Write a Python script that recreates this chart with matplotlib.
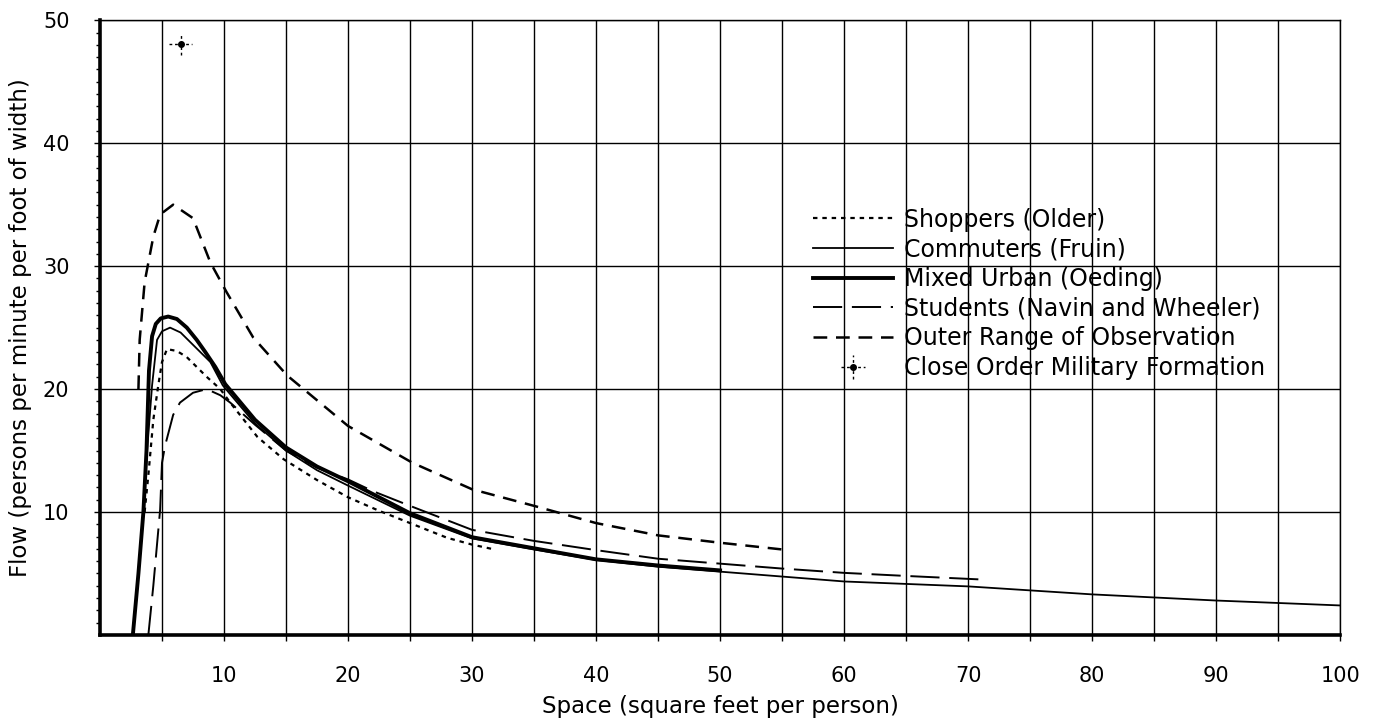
import matplotlib
matplotlib.use("Agg")
import matplotlib.pyplot as plt
import numpy as np

# values (space ft2/person, flow persons/min/ft)
shop_x = [3.6, 3.9, 4.3, 4.7, 5.0, 5.4, 6.2, 7.0, 8.6, 9.7, 10.5, 12.7, 14.8, 17.5, 20.0, 22.5, 25.0, 28.0, 30.0, 31.6]
shop_y = [10.0, 13.0, 17.5, 20.3, 22.2, 23.25, 23.1, 22.6, 21.0, 20.0, 18.9, 16.1, 14.3, 12.6, 11.2, 10.1, 9.1, 7.9, 7.35, 7.0]

comm_x = [2.65, 3.1, 3.5, 3.8, 4.2, 4.6, 5.0, 5.65, 6.5, 7.5, 8.9, 9.9, 12.5, 15.0, 17.5, 20.0, 25.0, 30.0, 35.0,
          40.0, 45.0, 50.0, 55.0, 60.0, 70.0, 80.0, 90.0, 100.0]
comm_y = [0.0, 5.0, 10.0, 15.0, 20.3, 24.0, 24.7, 25.0, 24.6, 23.6, 22.2, 20.3, 17.2, 15.0, 13.4, 12.15, 9.7, 7.85,
          6.95, 6.1, 5.55, 5.15, 4.75, 4.35, 3.95, 3.3, 2.8, 2.4]

mixed_x = [2.65, 3.1, 3.5, 3.75, 3.95, 4.2, 4.5, 4.9, 5.5, 6.2, 7.0, 7.8, 8.5, 9.3, 10.1, 12.5, 15.0, 17.5, 20.0,
           25.0, 30.0, 35.0, 40.0, 45.0, 50.0]
mixed_y = [0.0, 5.0, 10.0, 15.0, 21.5, 24.3, 25.3, 25.75, 25.9, 25.7, 25.0, 24.0, 23.0, 21.8, 20.4, 17.5, 15.25,
           13.7, 12.5, 9.9, 7.95, 7.05, 6.15, 5.65, 5.25]

stud_x = [3.9, 4.3, 4.85, 5.0, 5.25, 5.9, 6.45, 7.5, 8.6, 9.7, 10.5, 12.5, 15.0, 17.5, 20.0, 22.0, 25.0, 30.0, 35.0,
          40.0, 45.0, 50.0, 55.0, 60.0, 65.0, 71.3]
stud_y = [0.0, 4.0, 10.2, 14.0, 15.4, 17.9, 18.9, 19.7, 20.0, 19.5, 18.9, 17.1, 15.0, 13.6, 12.65, 11.7, 10.5, 8.55,
          7.65, 6.9, 6.2, 5.8, 5.4, 5.05, 4.8, 4.5]

outer_x = [3.1, 3.2, 3.6, 4.3, 4.85, 5.9, 7.5, 8.9, 10.2, 12.35, 15.1, 20.0, 25.2, 30.0, 35.0, 40.0, 45.0, 50.0, 55.5]
outer_y = [20.0, 24.0, 28.7, 32.4, 34.2, 35.0, 33.9, 30.3, 27.9, 24.2, 21.1, 17.0, 14.0, 11.85, 10.5, 9.1, 8.1, 7.5, 6.9]

military_x = [6.5]
military_y = [48.1]

x_ticks = [10, 20, 30, 40, 50, 60, 70, 80, 90, 100]
y_ticks = [10, 20, 30, 40, 50]


def main():
    plt.rcParams['font.family'] = ['DejaVu Sans']
    fig = plt.figure(figsize=(13.83, 7.24), dpi=100)
    ax = fig.add_axes([0.0723, 0.123, 0.8967, 0.849])

    ax.plot(shop_x, shop_y, color='black', lw=1.6, ls=(0, (2, 2.2)), label='Shoppers (Older)')
    ax.plot(comm_x, comm_y, color='black', lw=1.3, label='Commuters (Fruin)')
    ax.plot(mixed_x, mixed_y, color='black', lw=2.8, label='Mixed Urban (Oeding)')
    ax.plot(stud_x, stud_y, color='black', lw=1.4, ls=(0, (15, 5)), label='Students (Navin and Wheeler)')
    ax.plot(outer_x, outer_y, color='black', lw=1.8, ls=(0, (5.5, 3.5)), label='Outer Range of Observation')
    eb = ax.errorbar(military_x, military_y, xerr=0.9, yerr=0.9, fmt='o', ms=4, color='black',
                     elinewidth=1, capsize=0, label='Close Order Military Formation')
    for bar in eb[2]:
        bar.set_linestyle((0, (2, 2)))

    ax.set_xlim(0, 100)
    ax.set_ylim(0, 50)
    ax.set_xticks(x_ticks)
    ax.set_xticks(np.arange(5, 100, 10), minor=True)
    ax.set_yticks(y_ticks)
    ax.set_yticks(np.arange(1, 50, 1), minor=True)
    ax.grid(which='major', color='black', lw=1.0)
    ax.grid(which='minor', axis='x', color='black', lw=1.0)
    ax.set_axisbelow(True)

    ax.tick_params(axis='both', which='major', labelsize=15, length=4, width=1, direction='out')
    ax.tick_params(axis='x', which='major', pad=18)
    ax.tick_params(axis='y', which='major', pad=18)
    ax.tick_params(axis='x', which='minor', length=4, width=1)
    ax.tick_params(axis='y', which='minor', length=3, width=1)

    for side in ['left', 'bottom']:
        ax.spines[side].set_linewidth(2.6)
    for side in ['top', 'right']:
        ax.spines[side].set_linewidth(1.0)

    ax.set_xlabel('Space (square feet per person)', fontsize=16.5, labelpad=7)
    ax.set_ylabel('Flow (persons per minute per foot of width)', fontsize=16.5, labelpad=8)

    ax.legend(loc='upper left', bbox_to_anchor=(0.575, 0.695), frameon=False, fontsize=17,
              handlelength=3.4, handletextpad=0.45, labelspacing=0.24, borderpad=0, borderaxespad=0)

    fig.savefig('out.png', dpi=100)


if __name__ == "__main__":
    main()
